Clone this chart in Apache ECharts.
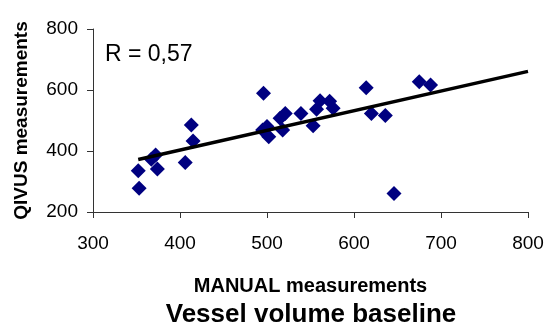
<!DOCTYPE html>
<html>
<head>
<meta charset="utf-8">
<script src="https://cdn.jsdelivr.net/npm/echarts@6/dist/echarts.min.js"></script>
<style>
  html, body { margin: 0; padding: 0; background: #fff; }
  #chart { width: 547px; height: 333px; }
</style>
</head>
<body>
<div id="chart"></div>
<script>
// manual (x) vs QIVUS (y)
const manualVals = [352, 353, 367, 372, 374, 406, 413, 415, 496, 495, 500, 502, 518, 515, 521, 539, 553, 557, 561, 572, 576, 614, 620, 636, 646, 675, 688]
const qivusVals = [335, 278, 373, 387, 341, 362, 485, 433, 589, 469, 480, 447, 469, 507, 523, 523, 483, 537, 565, 563, 540, 607, 523, 516, 261, 627, 616]

// trend line ends
const trendX = [352, 800]
const trendY = [372, 661]

const xTicks = [300, 400, 500, 600, 700, 800]
const yTicks = [200, 400, 600, 800]

const font = 'Liberation Sans, Arial, sans-serif'

const points = manualVals.map((v, i) => [v, qivusVals[i]])
const trend = trendX.map((v, i) => [v, trendY[i]])

const chart = echarts.init(document.getElementById('chart'))

const option = {
  animation: false,
  grid: { left: 93, right: 19, top: 29, bottom: 121 },
  xAxis: {
    type: 'value',
    min: xTicks[0],
    max: xTicks[xTicks.length - 1],
    interval: 100,
    name: 'MANUAL measurements',
    nameLocation: 'middle',
    nameGap: 64,
    nameTextStyle: { fontFamily: font, fontWeight: 'bold', fontSize: 20, color: '#000' },
    axisLine: { lineStyle: { color: '#333', width: 1 } },
    axisTick: { show: true, length: 6, lineStyle: { color: '#333' } },
    axisLabel: { margin: 22, fontFamily: font, fontSize: 19, color: '#000' },
    splitLine: { show: false }
  },
  yAxis: {
    type: 'value',
    min: yTicks[0],
    max: yTicks[yTicks.length - 1],
    interval: 200,
    name: 'QIVUS measurements',
    nameLocation: 'middle',
    nameGap: 62,
    nameTextStyle: { fontFamily: font, fontWeight: 'bold', fontSize: 19, color: '#000' },
    axisLine: { show: true, lineStyle: { color: '#333', width: 1 } },
    axisTick: { show: true, length: 6, lineStyle: { color: '#333' } },
    axisLabel: { margin: 15, fontFamily: font, fontSize: 19, color: '#000' },
    splitLine: { show: false }
  },
  graphic: [
    {
      type: 'text',
      x: 105,
      y: 55,
      style: { text: 'R = 0,57', font: '23px ' + font, fill: '#000', textVerticalAlign: 'middle' }
    },
    {
      type: 'text',
      x: 311,
      y: 315,
      style: {
        text: 'Vessel volume baseline',
        font: 'bold 26px ' + font,
        fill: '#000',
        textAlign: 'center',
        textVerticalAlign: 'middle'
      }
    }
  ],
  series: [
    {
      type: 'line',
      data: trend,
      symbol: 'none',
      lineStyle: { color: '#000', width: 3.5 },
      z: 3
    },
    {
      type: 'scatter',
      data: points,
      symbol: 'diamond',
      symbolSize: [15, 15],
      itemStyle: { color: '#000080', opacity: 1 },
      z: 2
    }
  ]
}

chart.setOption(option)
</script>
</body>
</html>
